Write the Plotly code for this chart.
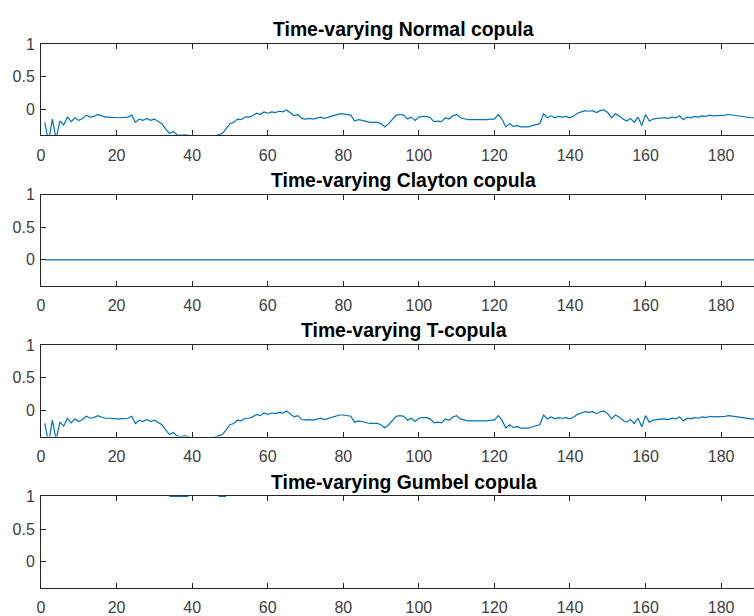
import plotly.graph_objects as go

# ---------------- data ----------------
t_index = list(range(1, 191))

normal_copula = [
    -0.20, -0.50, -0.15, -0.45, -0.18, -0.24, -0.12, -0.19, -0.13, -0.17,
    -0.14, -0.09, -0.12, -0.11, -0.08, -0.10, -0.12, -0.12, -0.13, -0.13,
    -0.13, -0.13, -0.12, -0.09, -0.20, -0.15, -0.17, -0.14, -0.17, -0.15,
    -0.19, -0.22, -0.30, -0.37, -0.34, -0.39, -0.40, -0.39, -0.40, -0.42,
    -0.45, -0.48, -0.48, -0.46, -0.43, -0.41, -0.39, -0.37, -0.30, -0.22,
    -0.20, -0.15, -0.16, -0.12, -0.12, -0.10, -0.06, -0.08, -0.04, -0.06,
    -0.04, -0.05, -0.03, -0.04, -0.01, -0.06, -0.10, -0.08, -0.14, -0.15,
    -0.14, -0.15, -0.13, -0.12, -0.14, -0.12, -0.11, -0.09, -0.07, -0.07,
    -0.08, -0.09, -0.18, -0.16, -0.17, -0.19, -0.20, -0.20, -0.20, -0.22,
    -0.27, -0.22, -0.15, -0.09, -0.08, -0.09, -0.15, -0.12, -0.17, -0.12,
    -0.11, -0.11, -0.13, -0.19, -0.18, -0.19, -0.13, -0.15, -0.10, -0.08,
    -0.13, -0.15, -0.16, -0.16, -0.16, -0.16, -0.17, -0.16, -0.15, -0.15,
    -0.08, -0.15, -0.27, -0.22, -0.26, -0.25, -0.27, -0.27, -0.27, -0.25,
    -0.24, -0.22, -0.07, -0.13, -0.10, -0.13, -0.11, -0.12, -0.11, -0.13,
    -0.10, -0.06, -0.04, -0.02, -0.03, -0.02, -0.05, -0.02, -0.01, -0.05,
    -0.13, -0.07, -0.10, -0.15, -0.18, -0.14, -0.20, -0.12, -0.25, -0.08,
    -0.18, -0.15, -0.14, -0.13, -0.13, -0.14, -0.12, -0.13, -0.10, -0.16,
    -0.12, -0.13, -0.11, -0.12, -0.10, -0.11, -0.09, -0.10, -0.10, -0.09,
    -0.09, -0.08, -0.09, -0.09, -0.11, -0.12, -0.13, -0.13, -0.13, -0.13,
]

t_copula = [
    -0.20, -0.50, -0.15, -0.45, -0.18, -0.24, -0.12, -0.19, -0.13, -0.17,
    -0.14, -0.09, -0.12, -0.11, -0.08, -0.10, -0.12, -0.12, -0.13, -0.13,
    -0.13, -0.13, -0.12, -0.09, -0.20, -0.15, -0.17, -0.14, -0.17, -0.15,
    -0.19, -0.22, -0.30, -0.37, -0.34, -0.39, -0.40, -0.39, -0.40, -0.42,
    -0.45, -0.48, -0.48, -0.46, -0.43, -0.41, -0.39, -0.37, -0.30, -0.22,
    -0.20, -0.15, -0.16, -0.12, -0.12, -0.10, -0.06, -0.08, -0.04, -0.06,
    -0.04, -0.05, -0.03, -0.04, -0.01, -0.06, -0.10, -0.08, -0.14, -0.15,
    -0.14, -0.15, -0.13, -0.12, -0.14, -0.12, -0.11, -0.09, -0.07, -0.07,
    -0.08, -0.09, -0.18, -0.16, -0.17, -0.19, -0.20, -0.20, -0.20, -0.22,
    -0.27, -0.22, -0.15, -0.09, -0.08, -0.09, -0.15, -0.12, -0.17, -0.12,
    -0.11, -0.11, -0.13, -0.19, -0.18, -0.19, -0.13, -0.15, -0.10, -0.08,
    -0.13, -0.15, -0.16, -0.16, -0.16, -0.16, -0.17, -0.16, -0.15, -0.15,
    -0.08, -0.15, -0.27, -0.22, -0.26, -0.25, -0.27, -0.27, -0.27, -0.25,
    -0.24, -0.22, -0.07, -0.13, -0.10, -0.13, -0.11, -0.12, -0.11, -0.13,
    -0.10, -0.06, -0.04, -0.02, -0.03, -0.02, -0.05, -0.02, -0.01, -0.05,
    -0.13, -0.07, -0.10, -0.15, -0.18, -0.14, -0.20, -0.12, -0.25, -0.08,
    -0.18, -0.15, -0.14, -0.13, -0.13, -0.14, -0.12, -0.13, -0.10, -0.16,
    -0.12, -0.13, -0.11, -0.12, -0.10, -0.11, -0.09, -0.10, -0.10, -0.09,
    -0.09, -0.08, -0.09, -0.09, -0.11, -0.12, -0.13, -0.13, -0.13, -0.13,
]

clayton_x = [1, 190]
clayton_copula = [0.0, 0.0]

# only the parts of the Gumbel series that fall inside the visible range
gumbel_x = [34, 35, 36, 37, 38, 39, None, 47, 48, 49]
gumbel_copula = [1.0, 1.0, 1.0, 1.0, 1.0, 1.0, None, 1.0, 1.0, 1.0]

titles = ["Time-varying Normal copula", "Time-varying Clayton copula",
          "Time-varying T-copula", "Time-varying Gumbel copula"]
x_ticks = [0, 20, 40, 60, 80, 100, 120, 140, 160, 180]
y_ticks = [0, 0.5, 1]
y_tick_text = ["0", "0.5", "1"]

# ---------------- layout ----------------
W, H = 754, 616
LINE = "#0072BD"
AX = "#262626"
FONT = "Liberation Sans, Arial, sans-serif"
panel_top_px = [36.7, 190.0, 343.3, 497.3]
panel_h_px = 93.0
y_lo, y_hi = -0.4, 1.0
x_rng = [0, 188.7]

fig = go.Figure()
series = [(t_index, normal_copula), (clayton_x, clayton_copula),
          (t_index, t_copula), (gumbel_x, gumbel_copula)]

layout = dict(width=W, height=H, margin=dict(l=41, r=0, t=0, b=0),
              paper_bgcolor="white", plot_bgcolor="rgba(0,0,0,0)",
              showlegend=False,
              font=dict(family=FONT, size=16, color="#404040"))
annotations = []
for i in range(4):
    top = 1 - panel_top_px[i] / H
    bot = 1 - (panel_top_px[i] + panel_h_px) / H
    xa = "xaxis" if i == 0 else f"xaxis{i+1}"
    ya = "yaxis" if i == 0 else f"yaxis{i+1}"
    xr = "x" if i == 0 else f"x{i+1}"
    yr = "y" if i == 0 else f"y{i+1}"
    layout[xa] = dict(domain=[0, 1], range=x_rng, anchor=yr,
                      tickvals=x_ticks, ticks="inside", ticklen=5,
                      tickcolor=AX, showline=True, linecolor=AX, linewidth=1,
                      mirror="ticks", showgrid=False, zeroline=False,
                      ticklabelstandoff=5,
                      tickfont=dict(size=16, color="#404040"))
    layout[ya] = dict(domain=[bot, top], range=[y_lo, y_hi], anchor=xr,
                      tickvals=y_ticks, ticktext=y_tick_text, ticks="inside",
                      ticklen=5, tickcolor=AX, showline=True, linecolor=AX,
                      linewidth=1, mirror=False, showgrid=False, zeroline=False,
                      ticklabelstandoff=2,
                      tickfont=dict(size=16, color="#404040"))
    annotations.append(dict(text=f"<b>{titles[i]}</b>", xref=xr, yref="paper",
                            x=96, y=top + 15 / H, xanchor="center",
                            yanchor="middle", showarrow=False,
                            font=dict(size=19.4, color="black", family=FONT)))
    fig.add_trace(go.Scatter(x=series[i][0], y=series[i][1], mode="lines",
                             line=dict(color=LINE, width=1.2),
                             connectgaps=False,
                             xaxis=xr, yaxis=yr, hoverinfo="skip"))

# Gumbel: overlay axis whose area reaches a few px above the box, so the
# line sitting exactly at 1 shows just above the top axis line (as in MATLAB)
ext_px = 4
g_top_px = panel_top_px[3]
g_bot = 1 - (g_top_px + panel_h_px) / H
g_top = 1 - (g_top_px - ext_px) / H
g_hi = y_hi + (y_hi - y_lo) * ext_px / panel_h_px
layout["yaxis5"] = dict(domain=[g_bot, g_top], range=[y_lo, g_hi],
                        anchor="x4", visible=False, showgrid=False,
                        zeroline=False)
fig.add_trace(go.Scatter(x=gumbel_x, y=gumbel_copula, mode="lines",
                         line=dict(color=LINE, width=1.2), connectgaps=False,
                         xaxis="x4", yaxis="y5", hoverinfo="skip"))

layout["annotations"] = annotations
fig.update_layout(**layout)
fig.write_html("out.html", config={"displayModeBar": False},
               post_script="document.body.style.margin='0px';")
